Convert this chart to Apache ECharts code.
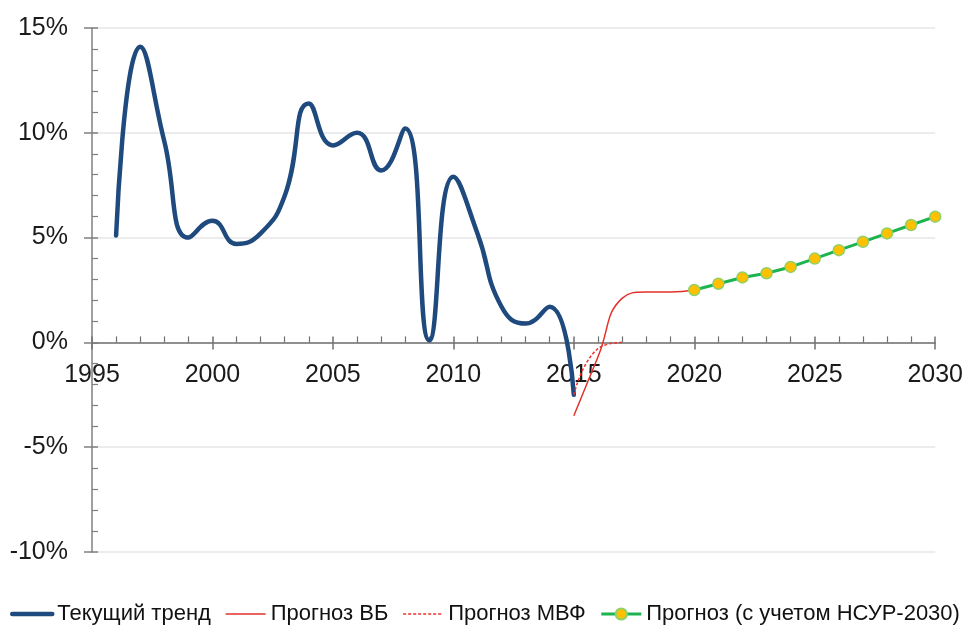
<!DOCTYPE html>
<html>
<head>
<meta charset="utf-8">
<script src="https://cdn.jsdelivr.net/npm/echarts@6/dist/echarts.min.js"></script>
<style>
  html, body { margin: 0; padding: 0; background: #fff; }
  #chart { width: 966px; height: 628px; }
</style>
</head>
<body>
<div id="chart"></div>
<script>
// Years and growth rates (%) per scenario
const trendYears  = [1996, 1997, 1998, 1999, 2000, 2001, 2002, 2003, 2004, 2005, 2006, 2007, 2008, 2009, 2010, 2011, 2012, 2013, 2014, 2015];
const trendValues = [5.1, 14.1, 9.6, 5.0, 5.8, 4.7, 5.2, 7.0, 11.4, 9.4, 10.0, 8.2, 10.2, 0.1, 7.9, 5.2, 1.7, 0.9, 1.7, -2.5];

const wbYears  = [2015, 2016, 2017, 2018, 2019, 2020];
const wbValues = [-3.5, -0.7, 2.1, 2.4, 2.4, 2.5];

const imfYears  = [2015, 2016, 2017];
const imfValues = [-2.5, -0.3, 0.0];

const nsurYears  = [2020, 2021, 2022, 2023, 2024, 2025, 2026, 2027, 2028, 2029, 2030];
const nsurValues = [2.5, 2.8, 3.1, 3.3, 3.6, 4.0, 4.4, 4.8, 5.2, 5.6, 6.0];

const seriesNames = ['Текущий тренд', 'Прогноз ВБ', 'Прогноз МВФ', 'Прогноз (с учетом НСУР-2030)'];

const xTicks = { min: 1995, max: 2030, interval: 5 };
const yTicks = { min: -10, max: 15, interval: 5 };

const pairs = (xs, ys) => xs.map((x, i) => [x, ys[i]]);

const FONT = '"Liberation Sans", Arial, sans-serif';
const axisGrey = '#808080';
const xAxisGrey = '#707070';

const BLUE = '#1f4a7e', RED = '#e2312b', RED_DOT = '#f0302a', GREEN = '#1db350';

const gridTop = 28, gridBottom = 76, chartH = 628;
// year labels sit just under the 0% line, not under the plot bottom
const plotH = chartH - gridTop - gridBottom;
const zeroToBottom = plotH * (0 - yTicks.min) / (yTicks.max - yTicks.min);
const yearLabelMargin = 20 - zeroToBottom;

const chart = echarts.init(document.getElementById('chart'));
chart.setOption({
  animation: false,
  grid: { left: 92, right: 30, top: gridTop, bottom: gridBottom },
  xAxis: [
    {
      // year labels
      type: 'value',
      min: xTicks.min, max: xTicks.max, interval: xTicks.interval,
      axisLine: { show: false, onZero: false },
      axisTick: { show: false },
      splitLine: { show: false },
      axisLabel: {
        margin: yearLabelMargin,
        fontFamily: FONT, fontSize: 25, color: '#1a1a1a',
        formatter: v => String(v)
      }
    },
    {
      // axis line at 0% with inward ticks
      type: 'value',
      position: 'bottom',
      min: xTicks.min, max: xTicks.max, interval: xTicks.interval,
      axisLine: { show: true, onZero: true, lineStyle: { color: xAxisGrey, width: 1.5 } },
      axisTick: { show: true, inside: true, length: 6, lineStyle: { color: xAxisGrey, width: 1.5 } },
      minorTick: { show: true, splitNumber: 5, length: 6, lineStyle: { color: xAxisGrey, width: 1.2 } },
      splitLine: { show: false },
      axisLabel: { show: false }
    },
    {
      // outward half of the major ticks
      type: 'value',
      position: 'bottom',
      min: xTicks.min, max: xTicks.max, interval: xTicks.interval,
      axisLine: { show: false, onZero: true },
      axisTick: { show: true, inside: false, length: 7, lineStyle: { color: xAxisGrey, width: 1.5 } },
      splitLine: { show: false },
      axisLabel: { show: false }
    }
  ],
  yAxis: [
    {
      type: 'value',
      min: yTicks.min, max: yTicks.max, interval: yTicks.interval,
      axisLine: { show: true, onZero: false, lineStyle: { color: axisGrey, width: 1.5 } },
      axisTick: { show: true, inside: true, length: 6, lineStyle: { color: axisGrey, width: 1.5 } },
      minorTick: { show: true, splitNumber: 5, length: 6, lineStyle: { color: axisGrey, width: 1.2 } },
      splitLine: { show: true, lineStyle: { color: '#e6e6e6', width: 1.5 } },
      axisLabel: {
        margin: 24,
        fontFamily: FONT, fontSize: 25, color: '#1a1a1a',
        formatter: v => v + '%'
      }
    },
    {
      // outward half of the major ticks
      type: 'value',
      position: 'left',
      min: yTicks.min, max: yTicks.max, interval: yTicks.interval,
      axisLine: { show: false, onZero: false },
      axisTick: { show: true, inside: false, length: 8, lineStyle: { color: axisGrey, width: 1.5 } },
      splitLine: { show: false },
      axisLabel: { show: false }
    }
  ],
  legend: {
    left: 10, right: 0, bottom: 3, padding: 0,
    itemWidth: 40, itemHeight: 14, itemGap: 14,
    textStyle: { fontFamily: FONT, fontSize: 22, color: '#111' },
    data: [
      { name: seriesNames[0], itemStyle: { opacity: 0 }, lineStyle: { color: BLUE, width: 4.5, cap: 'round' } },
      { name: seriesNames[1], itemStyle: { opacity: 0 }, lineStyle: { color: RED, width: 1.5 } },
      { name: seriesNames[2], itemStyle: { opacity: 0 }, lineStyle: { color: RED_DOT, width: 1.5, type: [3, 2] } },
      { name: seriesNames[3], lineStyle: { color: GREEN, width: 3 } }
    ]
  },
  series: [
    {
      name: seriesNames[0], type: 'line', smooth: 0.5,
      symbol: 'none',
      lineStyle: { color: BLUE, width: 4.5, cap: 'round', join: 'round' },
      itemStyle: { color: BLUE },
      data: pairs(trendYears, trendValues), z: 3
    },
    {
      name: seriesNames[1], type: 'line', smooth: 0.5,
      symbol: 'none',
      lineStyle: { color: RED, width: 1.5 },
      itemStyle: { color: RED },
      data: pairs(wbYears, wbValues), z: 4
    },
    {
      name: seriesNames[2], type: 'line', smooth: 0.5,
      symbol: 'none',
      lineStyle: { color: RED_DOT, width: 1.5, type: [3, 2] },
      itemStyle: { color: RED_DOT },
      data: pairs(imfYears, imfValues), z: 4
    },
    {
      name: seriesNames[3], type: 'line',
      symbol: 'circle', symbolSize: 11, showSymbol: true,
      lineStyle: { color: GREEN, width: 3 },
      itemStyle: { color: '#ffc000', borderColor: '#8fd16a', borderWidth: 1.5 },
      data: pairs(nsurYears, nsurValues), z: 5
    }
  ]
});
</script>
</body>
</html>
